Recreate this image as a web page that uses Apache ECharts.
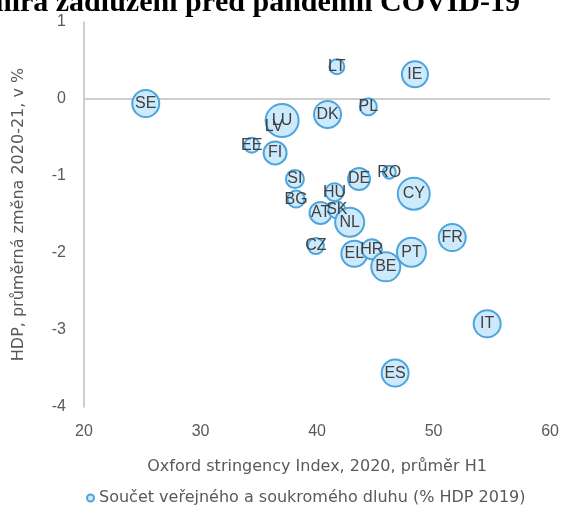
<!DOCTYPE html>
<html>
<head>
<meta charset="utf-8">
<script src="https://cdn.jsdelivr.net/npm/echarts@6/dist/echarts.min.js"></script>
<style>
  html, body { margin: 0; padding: 0; background: #fff; }
  #main { width: 562px; height: 507px; }
</style>
</head>
<body>
<div id="main"></div>
<script>
// země, stringency index (x), změna HDP (y), dluh (velikost bubliny)
var countries = ['SE', 'LT', 'IE', 'PL', 'DK', 'LV', 'LU', 'EE', 'FI', 'SI', 'BG', 'HU', 'DE', 'RO', 'CY', 'AT', 'SK', 'NL', 'CZ', 'EL', 'HR', 'BE', 'PT', 'FR', 'IT', 'ES'];
var stringency = [25.3, 41.7, 48.4, 44.4, 40.9, 36.3, 37.0, 34.4, 36.4, 38.1, 38.2, 41.5, 43.6, 46.2, 48.3, 40.3, 41.7, 42.8, 39.9, 43.2, 44.7, 45.9, 48.1, 51.6, 54.6, 46.7];
var gdpChange = [-0.06, 0.42, 0.32, -0.1, -0.2, -0.36, -0.28, -0.6, -0.7, -1.04, -1.3, -1.21, -1.04, -0.95, -1.23, -1.48, -1.44, -1.6, -1.91, -2.01, -1.95, -2.18, -1.99, -1.8, -2.92, -3.56];
var debt = [225, 69, 209, 89, 225, 50, 336, 69, 163, 100, 89, 100, 149, 52, 316, 150, 89, 260, 79, 209, 123, 260, 260, 225, 225, 225];

var xTicks = [20, 30, 40, 50, 60];
var yTicks = [-4, -3, -2, -1, 0, 1];

var points = countries.map(function (c, i) {
  return { name: c, value: [stringency[i], gdpChange[i], debt[i]] };
});

var chart = echarts.init(document.getElementById('main'));
var font = '"Liberation Sans", Arial, sans-serif';
var wideFont = '"DejaVu Sans", sans-serif';

chart.setOption({
  animation: false,
  textStyle: { fontFamily: font },
  graphic: [{
    type: 'text',
    x: 520,
    y: 18,
    style: {
      text: 'míra zadlužení před pandemií COVID-19',
      font: 'bold 30px "Liberation Serif", "Times New Roman", serif',
      fill: '#000',
      align: 'right',
      verticalAlign: 'bottom'
    }
  }],
  grid: { left: 84, right: 10, top: 22, bottom: 100 },
  legend: {
    left: 86,
    bottom: 1,
    padding: 0,
    icon: 'circle',
    itemWidth: 7,
    itemHeight: 9,
    textStyle: { fontSize: 16, color: '#595959', fontFamily: wideFont },
    data: ['Součet veřejného a soukromého dluhu (% HDP 2019)']
  },
  xAxis: {
    type: 'value',
    min: xTicks[0],
    max: xTicks[xTicks.length - 1],
    interval: 10,
    name: 'Oxford stringency Index, 2020, průměr H1',
    nameLocation: 'middle',
    nameGap: 52,
    nameTextStyle: { fontSize: 16, color: '#595959', fontFamily: wideFont },
    axisLine: { show: false },
    axisTick: { show: false },
    splitLine: { show: false },
    axisLabel: { fontSize: 16, color: '#595959', margin: 17 }
  },
  yAxis: {
    type: 'value',
    min: yTicks[0],
    max: yTicks[yTicks.length - 1],
    interval: 1,
    name: 'HDP, průměrná změna 2020-21, v %',
    nameLocation: 'middle',
    nameGap: 57,
    nameTextStyle: { fontSize: 16, color: '#595959', fontFamily: wideFont },
    axisLine: { show: true, onZero: false, lineStyle: { color: '#bfbfbf', width: 1.5 } },
    axisTick: { show: false },
    splitLine: { show: false },
    axisLabel: { fontSize: 16, color: '#595959', margin: 18 }
  },
  series: [{
    name: 'Součet veřejného a soukromého dluhu (% HDP 2019)',
    type: 'scatter',
    data: points,
    symbolSize: function (v) { return 1.8 * Math.sqrt(v[2]); },
    itemStyle: { color: '#cdeafc', borderColor: '#4ea5dc', borderWidth: 2, opacity: 1 },
    label: {
      show: true,
      position: 'inside',
      formatter: '{b}',
      fontSize: 16,
      color: '#404040',
      fontFamily: font
    },
    markLine: {
      silent: true,
      symbol: 'none',
      label: { show: false },
      lineStyle: { color: '#bfbfbf', width: 1.5, type: 'solid' },
      data: [{ yAxis: 0 }],
      z: 1
    }
  }]
});
</script>
</body>
</html>
